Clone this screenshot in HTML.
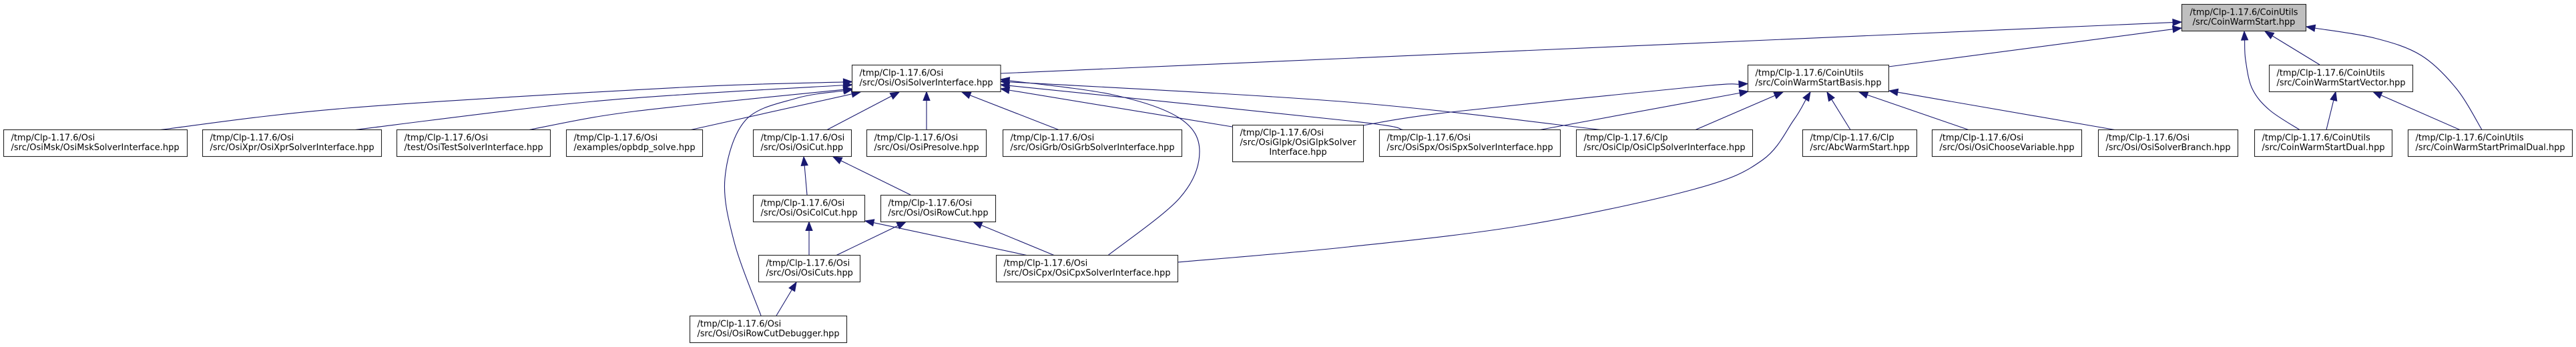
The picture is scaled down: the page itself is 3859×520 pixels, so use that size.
<!DOCTYPE html>
<html>
<head>
<meta charset="utf-8">
<style>
html,body{margin:0;padding:0;background:#fff;}
svg{display:block;}
text{font-family:"DejaVu Sans","Liberation Sans",sans-serif;font-size:12.9px;fill:#000;}
rect.n{fill:#fff;stroke:#222;stroke-width:1.1;}
rect.g{fill:#bfbfbf;stroke:#222;stroke-width:1.1;}
</style>
</head>
<body>
<svg id="g" xmlns="http://www.w3.org/2000/svg" width="3859" height="520" viewBox="0 0 3859 520">
<rect x="0" y="0" width="3859" height="520" fill="#fff"/>
<g id="edges"></g>
<g id="nodes">
<!-- CoinWarmStart -->
<rect class="g" x="3268.5" y="6.5" width="186" height="40"/>
<text x="3361.5" y="22.5" text-anchor="middle" textLength="162">/tmp/Clp-1.17.6/CoinUtils</text>
<text x="3361.5" y="37" text-anchor="middle">/src/CoinWarmStart.hpp</text>

<!-- OsiSolverInterface -->
<rect class="n" x="1276.5" y="97.5" width="222.5" height="40"/>
<text x="1287.5" y="113.3">/tmp/Clp-1.17.6/Osi</text>
<text x="1287.5" y="128" textLength="200">/src/Osi/OsiSolverInterface.hpp</text>

<!-- CoinWarmStartBasis -->
<rect class="n" x="2618.5" y="97.5" width="211" height="40"/>
<text x="2629.5" y="113.3">/tmp/Clp-1.17.6/CoinUtils</text>
<text x="2629.5" y="128" textLength="189">/src/CoinWarmStartBasis.hpp</text>

<!-- CoinWarmStartVector -->
<rect class="n" x="3399.5" y="97.5" width="215" height="40"/>
<text x="3410.5" y="113.3">/tmp/Clp-1.17.6/CoinUtils</text>
<text x="3410.5" y="128" textLength="193">/src/CoinWarmStartVector.hpp</text>

<!-- Row 3 -->
<rect class="n" x="5.5" y="194.5" width="275" height="40"/>
<text x="16.5" y="210.3">/tmp/Clp-1.17.6/Osi</text>
<text x="16.5" y="225" textLength="252">/src/OsiMsk/OsiMskSolverInterface.hpp</text>

<rect class="n" x="303.5" y="194.5" width="268" height="40"/>
<text x="314.5" y="210.3">/tmp/Clp-1.17.6/Osi</text>
<text x="314.5" y="225" textLength="246">/src/OsiXpr/OsiXprSolverInterface.hpp</text>

<rect class="n" x="594.5" y="194.5" width="230" height="40"/>
<text x="605.5" y="210.3">/tmp/Clp-1.17.6/Osi</text>
<text x="605.5" y="225" textLength="208">/test/OsiTestSolverInterface.hpp</text>

<rect class="n" x="848.5" y="194.5" width="204" height="40"/>
<text x="859.5" y="210.3">/tmp/Clp-1.17.6/Osi</text>
<text x="859.5" y="225" textLength="182">/examples/opbdp_solve.hpp</text>

<rect class="n" x="1128.5" y="194.5" width="147" height="40"/>
<text x="1139.5" y="210.3">/tmp/Clp-1.17.6/Osi</text>
<text x="1139.5" y="225">/src/Osi/OsiCut.hpp</text>

<rect class="n" x="1298.5" y="194.5" width="179" height="40"/>
<text x="1309.5" y="210.3">/tmp/Clp-1.17.6/Osi</text>
<text x="1309.5" y="225" textLength="157">/src/Osi/OsiPresolve.hpp</text>

<rect class="n" x="1502.5" y="194.5" width="268" height="40"/>
<text x="1513.5" y="210.3">/tmp/Clp-1.17.6/Osi</text>
<text x="1513.5" y="225" textLength="246">/src/OsiGrb/OsiGrbSolverInterface.hpp</text>

<rect class="n" x="1846.5" y="187.5" width="196" height="55"/>
<text x="1857.5" y="202.8">/tmp/Clp-1.17.6/Osi</text>
<text x="1857.5" y="217.5" textLength="174">/src/OsiGlpk/OsiGlpkSolver</text>
<text x="1944.5" y="232.2" text-anchor="middle">Interface.hpp</text>

<rect class="n" x="2066.5" y="194.5" width="271" height="40"/>
<text x="2077.5" y="210.3">/tmp/Clp-1.17.6/Osi</text>
<text x="2077.5" y="225" textLength="249">/src/OsiSpx/OsiSpxSolverInterface.hpp</text>

<rect class="n" x="2361.5" y="194.5" width="264" height="40"/>
<text x="2372.5" y="210.3">/tmp/Clp-1.17.6/Clp</text>
<text x="2372.5" y="225" textLength="242">/src/OsiClp/OsiClpSolverInterface.hpp</text>

<rect class="n" x="2700.5" y="194.5" width="171" height="40"/>
<text x="2711.5" y="210.3">/tmp/Clp-1.17.6/Clp</text>
<text x="2711.5" y="225" textLength="149">/src/AbcWarmStart.hpp</text>

<rect class="n" x="2894.5" y="194.5" width="224" height="40"/>
<text x="2905.5" y="210.3">/tmp/Clp-1.17.6/Osi</text>
<text x="2905.5" y="225" textLength="202">/src/Osi/OsiChooseVariable.hpp</text>

<rect class="n" x="3143.5" y="194.5" width="209" height="40"/>
<text x="3154.5" y="210.3">/tmp/Clp-1.17.6/Osi</text>
<text x="3154.5" y="225" textLength="187">/src/Osi/OsiSolverBranch.hpp</text>

<rect class="n" x="3377.5" y="194.5" width="206" height="40"/>
<text x="3388.5" y="210.3">/tmp/Clp-1.17.6/CoinUtils</text>
<text x="3388.5" y="225" textLength="184">/src/CoinWarmStartDual.hpp</text>

<rect class="n" x="3607.5" y="194.5" width="246" height="40"/>
<text x="3618.5" y="210.3">/tmp/Clp-1.17.6/CoinUtils</text>
<text x="3618.5" y="225" textLength="224">/src/CoinWarmStartPrimalDual.hpp</text>

<!-- Row 4 -->
<rect class="n" x="1128.5" y="292.5" width="167" height="40"/>
<text x="1139.5" y="308.3">/tmp/Clp-1.17.6/Osi</text>
<text x="1139.5" y="323" textLength="145">/src/Osi/OsiColCut.hpp</text>

<rect class="n" x="1319.5" y="292.5" width="172" height="40"/>
<text x="1330.5" y="308.3">/tmp/Clp-1.17.6/Osi</text>
<text x="1330.5" y="323" textLength="150">/src/Osi/OsiRowCut.hpp</text>

<!-- Row 5 -->
<rect class="n" x="1136.5" y="382.5" width="152" height="40"/>
<text x="1147.5" y="398.3">/tmp/Clp-1.17.6/Osi</text>
<text x="1147.5" y="413">/src/Osi/OsiCuts.hpp</text>

<rect class="n" x="1492.5" y="382.5" width="272" height="40"/>
<text x="1503.5" y="398.3">/tmp/Clp-1.17.6/Osi</text>
<text x="1503.5" y="413" textLength="250">/src/OsiCpx/OsiCpxSolverInterface.hpp</text>

<!-- Row 6 -->
<rect class="n" x="1033.5" y="473.5" width="235" height="40"/>
<text x="1044.5" y="489.3">/tmp/Clp-1.17.6/Osi</text>
<text x="1044.5" y="504" textLength="213">/src/Osi/OsiRowCutDebugger.hpp</text>
</g>
</svg>
<script>
(function(){
var E=[
 [[1499,110],[3268,33]],
 [[2829,100],[3268,42]],
 [[3475,97],[3393,47]],
 [[3445,194.5],[3400,165],[3374,133],[3364,90],[3362,47]],
 [[3718,194.5],[3680,133],[3627,83],[3557,57],[3455,40]],
 [[3485,194.5],[3499,137.5]],
 [[3685,194.5],[3555,137.5]],
 [[2041,188],[2173,168],[2540,130],[2618,125.5]],
 [[2307,194.5],[2619,137]],
 [[2540,194.5],[2671,138]],
 [[1764,393],[2020,370],[2287,337],[2540,283],[2640,240],[2687,180],[2712,138]],
 [[2772,194.5],[2737,138]],
 [[2949,194.5],[2785,138]],
 [[3168,194.5],[2830,136]],
 [[240,194.5],[520,162],[1020,131],[1276.5,122.5]],
 [[532,194.5],[829,158],[1020,142],[1276.5,127]],
 [[793,194.5],[900,174],[1020,159],[1276.5,133]],
 [[1035,194.5],[1289,138]],
 [[1140,473],[1100,363],[1086,267],[1117,180],[1194,147],[1277,134]],
 [[1239,194.5],[1347,138]],
 [[1388,194.5],[1388,137.5]],
 [[1586,194.5],[1441,138]],
 [[1846,190],[1499,133]],
 [[2102,194.5],[2020,181],[1499,127]],
 [[2398,194.5],[2020,153],[1499,122]],
 [[1660,382.5],[1767,297],[1797,227],[1767,177],[1667,142],[1499,119]],
 [[1209,292],[1204,235]],
 [[1364,292],[1248,235]],
 [[1212,382.5],[1212,332.5]],
 [[1538,382.5],[1296,331]],
 [[1253,382.5],[1357,332.5]],
 [[1579,382.5],[1458,332.5]],
 [[1163,473],[1193,423]]
];
var NS="http://www.w3.org/2000/svg";
var g=document.getElementById("edges");
var L=13,W=5,C="#191970";
function f(v){return Math.round(v*100)/100;}
E.forEach(function(p){
  var n=p.length;
  var tip=p[n-1],prev=p[n-2];
  var dx=tip[0]-prev[0],dy=tip[1]-prev[1];
  var len=Math.sqrt(dx*dx+dy*dy);
  var ux=dx/len,uy=dy/len;
  var base=[tip[0]-ux*L,tip[1]-uy*L];
  var pts=p.slice(0,n-1).concat([base]);
  var d="M"+f(pts[0][0])+","+f(pts[0][1]);
  if(pts.length==2){
    d+="L"+f(pts[1][0])+","+f(pts[1][1]);
  } else {
    for(var i=0;i<pts.length-1;i++){
      var p0=pts[i-1]||pts[i],p1=pts[i],p2=pts[i+1],p3=pts[i+2]||p2;
      var c1=[p1[0]+(p2[0]-p0[0])/6,p1[1]+(p2[1]-p0[1])/6];
      var c2=[p2[0]-(p3[0]-p1[0])/6,p2[1]-(p3[1]-p1[1])/6];
      d+="C"+f(c1[0])+","+f(c1[1])+" "+f(c2[0])+","+f(c2[1])+" "+f(p2[0])+","+f(p2[1]);
    }
  }
  var path=document.createElementNS(NS,"path");
  path.setAttribute("d",d);
  path.setAttribute("fill","none");
  path.setAttribute("stroke",C);
  path.setAttribute("stroke-width","1.1");
  g.appendChild(path);
  var px=-uy,py=ux;
  var poly=document.createElementNS(NS,"polygon");
  poly.setAttribute("points",
    f(tip[0])+","+f(tip[1])+" "+
    f(base[0]+px*W)+","+f(base[1]+py*W)+" "+
    f(base[0]-px*W)+","+f(base[1]-py*W));
  poly.setAttribute("fill",C);
  poly.setAttribute("stroke",C);
  poly.setAttribute("stroke-width","1");
  g.appendChild(poly);
});
})();
</script>
</body>
</html>
